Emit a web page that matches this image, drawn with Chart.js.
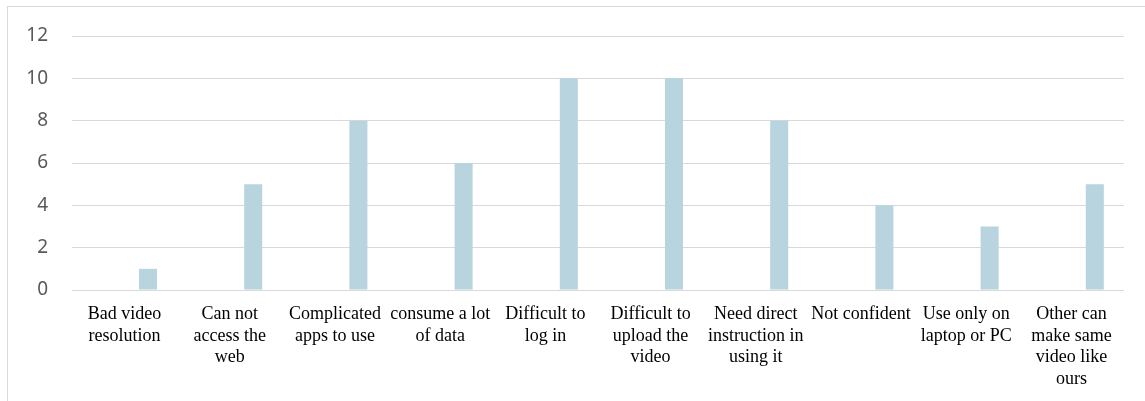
<!DOCTYPE html>
<html>
<head>
<meta charset="utf-8">
<script src="https://cdn.jsdelivr.net/npm/chart.js@4"></script>
<style>
  html, body { margin: 0; padding: 0; background: #fff; overflow: hidden; }
  #wrap { position: relative; width: 1145px; height: 401px; overflow: hidden; }
  #frame { position: absolute; left: 7px; top: 6px; width: 1200px; height: 500px; border: 1px solid #d9d9d9; }
  canvas { position: absolute; left: 0; top: 0; }
</style>
</head>
<body>
<div id="wrap">
  <div id="frame"></div>
  <canvas id="chart" width="1145" height="401"></canvas>
</div>
<script>
// categories (already wrapped as in the picture)
const categories = [
  ["Bad video", "resolution"],
  ["Can not", "access the", "web"],
  ["Complicated", "apps to use"],
  ["consume a lot", "of data"],
  ["Difficult to", "log in"],
  ["Difficult to", "upload the", "video"],
  ["Need direct", "instruction in", "using it"],
  ["Not confident"],
  ["Use only on", "laptop or PC"],
  ["Other can", "make same", "video like", "ours"]
];
// the first series is empty in the original, which is why the bars sit right of centre
const emptySeries = [null, null, null, null, null, null, null, null, null, null];
const counts = [1, 5, 8, 6, 10, 10, 8, 4, 3, 5];
const yMax = 12;
const yStep = 2;

const ctx = document.getElementById("chart").getContext("2d");

new Chart(ctx, {
  type: "bar",
  data: {
    labels: categories,
    datasets: [
      {
        label: "",
        data: emptySeries,
        backgroundColor: "#b7d4df",
      },
      {
        label: "Count",
        data: counts,
        backgroundColor: "#b7d4df",
      },
    ],
  },
  options: {
    responsive: false,
    animation: false,
    categoryPercentage: 0.89,
    barPercentage: 0.385,
    layout: {
      padding: { left: 0, top: 36, right: 21, bottom: 0 },
    },
    plugins: {
      legend: { display: false },
      tooltip: { enabled: false },
    },
    scales: {
      x: {
        grid: { display: false },
        border: { display: false },
        ticks: {
          color: "#000000",
          maxRotation: 0,
          autoSkip: false,
          padding: 6,
          font: { family: "'Liberation Serif', 'Times New Roman', serif", size: 18, lineHeight: 1.19 },
        },
        afterFit: (scale) => { scale.height = 111; },
      },
      y: {
        min: 0,
        max: yMax,
        ticks: {
          stepSize: yStep,
          color: "#595959",
          padding: 24,
          font: { family: "'Noto Sans', 'Liberation Sans', sans-serif", size: 19 },
        },
        grid: { color: "#d9d9d9", lineWidth: 1, drawTicks: false },
        border: { display: false },
        afterFit: (scale) => { scale.width = 72; },
      },
    },
  },
});
</script>
</body>
</html>
